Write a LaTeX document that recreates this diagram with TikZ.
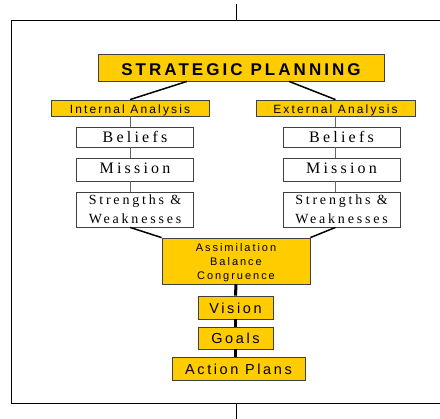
\documentclass[tikz,border=0pt]{standalone}
\usepackage{fontspec}
\newfontfamily\plansans[LetterSpace=18]{Liberation Sans}
\newfontfamily\planserif[LetterSpace=20]{Liberation Serif}
\definecolor{planyellow}{HTML}{FFCC00}
\colorlet{boxline}{black!75}

\begin{document}
\begin{tikzpicture}[x=1pt,y=-1pt]
\useasboundingbox (0,0) rectangle (440,419);
% frame and ticks
\draw[line width=1pt] (440,21) -- (11,21) -- (11,404) -- (440,404);
\draw[line width=0.8pt] (236,4) -- (236,21);
\draw[line width=0.8pt] (236,404) -- (236,419);
% yellow heads
\tikzset{BoxStyle/.style ={draw=boxline, fill=planyellow, inner sep=0pt, line width=0.8pt}}
\node[BoxStyle, minimum width=286pt, text height=22pt, text depth=5pt, font=\plansans\bfseries\fontsize{17}{19}\selectfont] (title) at (241,67.5) {STRATEGIC PLANNING};
\node[BoxStyle, minimum width=158pt, text height=14pt, text depth=2pt, font=\plansans\fontsize{12}{14}\selectfont] (intA) at (130,108) {Internal Analysis};
\node[BoxStyle, minimum width=159pt, text height=14pt, text depth=2pt, font=\plansans\fontsize{12}{14}\selectfont] (extA) at (335.5,108) {External Analysis};
% white boxes
\tikzset{BoxStyle/.style ={draw=boxline, fill=white, inner sep=0pt, line width=0.8pt, minimum width=117pt, align=center}}
\node[BoxStyle, text height=15.5pt, text depth=4.5pt, font=\planserif\fontsize{16}{18}\selectfont] (bel1) at (135,137) {Beliefs};
\node[BoxStyle, text height=15.5pt, text depth=7.5pt, font=\planserif\fontsize{16}{18}\selectfont] (mis1) at (135,169.5) {Mission};
\node[BoxStyle, text height=32pt, text depth=3pt, font=\planserif\fontsize{14}{19}\selectfont] (sw1) at (135,209.5) {Strengths \&\\Weaknesses};
\node[BoxStyle, text height=15.5pt, text depth=4.5pt, font=\planserif\fontsize{16}{18}\selectfont] (bel2) at (341.5,137) {Beliefs};
\node[BoxStyle, text height=15.5pt, text depth=7.5pt, font=\planserif\fontsize{16}{18}\selectfont] (mis2) at (341.5,169.5) {Mission};
\node[BoxStyle, text height=32pt, text depth=3pt, font=\planserif\fontsize{14}{19}\selectfont] (sw2) at (341.5,209.5) {Strengths \&\\Weaknesses};
% lower yellow boxes
\tikzset{BoxStyle/.style ={draw=boxline, fill=planyellow, inner sep=0pt, line width=0.8pt, align=center}}
\node[BoxStyle, minimum width=148pt, text height=41.7pt, text depth=4.3pt, font=\plansans\fontsize{11}{14}\selectfont] (assim) at (236,261) {Assimilation\\Balance\\Congruence};
\node[BoxStyle, minimum width=75pt, text height=18pt, text depth=5pt, font=\plansans\fontsize{14.5}{17}\selectfont] (vision) at (235.5,307.5) {Vision};
\node[BoxStyle, minimum width=75pt, text height=16.3pt, text depth=5.7pt, font=\plansans\fontsize{14.5}{17}\selectfont] (goals) at (235.5,338) {Goals};
\node[BoxStyle, minimum width=133pt, text height=17.3pt, text depth=5.7pt, font=\plansans\fontsize{14.5}{17}\selectfont] (plans) at (238.5,368.5) {Action Plans};
% connectors
\tikzset{EdgeStyle/.style ={line width=1.5pt, black}}
\draw[EdgeStyle] ([xshift=-54pt]title.south) -- (intA.north);
\draw[EdgeStyle] ([xshift=48pt]title.south) -- (extA.north);
\draw[EdgeStyle] (intA.south |- sw1.south) -- (assim.north west);
\draw[EdgeStyle] (extA.south |- sw2.south) -- (assim.north east);
\tikzset{EdgeStyle/.style ={line width=0.9pt, black!60}}
\draw[EdgeStyle] (intA.south) -- (intA.south |- bel1.north);
\draw[EdgeStyle] (intA.south |- bel1.south) -- (intA.south |- mis1.north);
\draw[EdgeStyle] (intA.south |- mis1.south) -- (intA.south |- sw1.north);
\draw[EdgeStyle] (extA.south) -- (extA.south |- bel2.north);
\draw[EdgeStyle] (extA.south |- bel2.south) -- (extA.south |- mis2.north);
\draw[EdgeStyle] (extA.south |- mis2.south) -- (extA.south |- sw2.north);
\tikzset{EdgeStyle/.style ={line width=3pt, black}}
\draw[EdgeStyle] (assim.south) -- (vision.north);
\draw[EdgeStyle] (vision.south) -- (goals.north);
\draw[EdgeStyle] (goals.south) -- (plans.north -| goals.south);
\end{tikzpicture}
\end{document}
